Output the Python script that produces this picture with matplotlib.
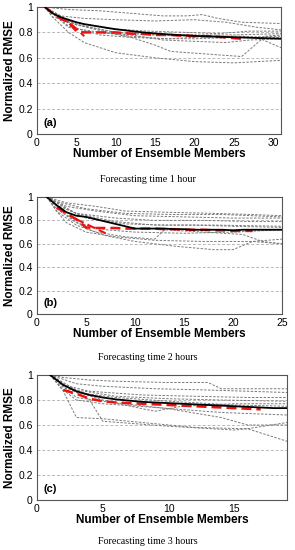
import matplotlib
matplotlib.use('Agg')
import matplotlib.pyplot as plt

# panel (a): forecasting time 1 hour
a_mean_x = list(range(1, 32))
a_mean_y = [1.0, 0.95, 0.92, 0.90, 0.88, 0.865, 0.855, 0.845, 0.835, 0.825, 0.818,
            0.81, 0.803, 0.797, 0.792, 0.787, 0.783, 0.779, 0.776, 0.773, 0.77, 0.768,
            0.766, 0.764, 0.762, 0.76, 0.758, 0.756, 0.754, 0.752, 0.75]
a_red_x = list(range(1, 27))
a_red_y = [1.0, 0.95, 0.91, 0.88, 0.81, 0.80, 0.80, 0.80, 0.80, 0.80, 0.795, 0.79, 0.79,
           0.785, 0.78, 0.78, 0.78, 0.775, 0.775, 0.77, 0.77, 0.77, 0.765, 0.76, 0.755, 0.75]
a_red2_x = [3, 4, 5, 6]
a_red2_y = [0.91, 0.88, 0.83, 0.77]
a_gray = [
    ([1, 4, 8, 12, 16, 19, 21, 23, 26, 31], [1.0, 0.98, 0.97, 0.95, 0.93, 0.93, 0.94, 0.91, 0.88, 0.87]),
    ([1, 3, 6, 10, 15, 20, 24, 28, 31], [1.0, 0.93, 0.91, 0.90, 0.89, 0.90, 0.88, 0.84, 0.82]),
    ([1, 2, 5, 9, 14, 19, 23, 27, 31], [1.0, 0.92, 0.88, 0.83, 0.81, 0.80, 0.79, 0.81, 0.81]),
    ([1, 3, 6, 10, 15, 20, 25, 31], [1.0, 0.90, 0.85, 0.80, 0.78, 0.78, 0.78, 0.79]),
    ([1, 4, 8, 12, 17, 22, 26, 28, 31], [1.0, 0.85, 0.78, 0.76, 0.75, 0.77, 0.77, 0.76, 0.68]),
    ([1, 3, 5, 9, 12, 15, 17, 26, 29, 31], [1.0, 0.90, 0.86, 0.80, 0.76, 0.70, 0.65, 0.61, 0.77, 0.78]),
    ([1, 2, 4, 6, 10, 15, 20, 25, 31], [1.0, 0.92, 0.80, 0.72, 0.64, 0.60, 0.57, 0.56, 0.58]),
    ([1, 4, 8, 12, 16, 20, 25, 31], [1.0, 0.84, 0.80, 0.77, 0.75, 0.75, 0.76, 0.77]),
    ([1, 5, 10, 15, 20, 25, 31], [1.0, 0.86, 0.80, 0.78, 0.77, 0.76, 0.76]),
    ([8, 12, 16, 20, 24, 27, 31], [0.80, 0.78, 0.74, 0.73, 0.72, 0.74, 0.75]),
]

# panel (b): forecasting time 2 hours
b_mean_x = list(range(1, 26))
b_mean_y = [1.0, 0.93, 0.87, 0.84, 0.83, 0.81, 0.79, 0.77, 0.75, 0.73, 0.73, 0.73, 0.73,
            0.725, 0.725, 0.72, 0.72, 0.72, 0.72, 0.715, 0.72, 0.72, 0.72, 0.72, 0.72]
b_red_x = list(range(2, 23))
b_red_y = [0.91, 0.86, 0.81, 0.74, 0.735, 0.735, 0.735, 0.73, 0.73, 0.73, 0.73, 0.725,
           0.725, 0.72, 0.72, 0.72, 0.715, 0.715, 0.71, 0.71, 0.71]
b_red2_x = [4, 5, 6, 7]
b_red2_y = [0.81, 0.77, 0.73, 0.69]
b_gray = [
    ([1, 3, 6, 9, 13, 18, 22, 25], [1.0, 0.95, 0.92, 0.88, 0.87, 0.86, 0.85, 0.84]),
    ([1, 2, 5, 9, 14, 19, 25], [1.0, 0.96, 0.90, 0.86, 0.85, 0.85, 0.83]),
    ([1, 3, 6, 10, 15, 20, 25], [1.0, 0.92, 0.88, 0.84, 0.83, 0.82, 0.82]),
    ([1, 2, 4, 8, 12, 17, 22, 25], [1.0, 0.93, 0.86, 0.82, 0.80, 0.80, 0.79, 0.79]),
    ([1, 3, 5, 9, 13, 18, 25], [1.0, 0.90, 0.82, 0.77, 0.76, 0.76, 0.75]),
    ([1, 2, 4, 7, 10, 15, 20, 25], [1.0, 0.90, 0.78, 0.72, 0.70, 0.69, 0.70, 0.72]),
    ([1, 2, 3, 5, 8, 12, 17, 22, 25], [1.0, 0.88, 0.78, 0.70, 0.66, 0.63, 0.62, 0.62, 0.64]),
    ([1, 3, 5, 7, 10, 14, 18, 20, 22, 25], [1.0, 0.85, 0.73, 0.67, 0.62, 0.58, 0.55, 0.55, 0.62, 0.60]),
    ([1, 2, 4, 6, 9, 12, 13, 17, 21, 23, 25], [1.0, 0.88, 0.76, 0.70, 0.66, 0.64, 0.72, 0.70, 0.68, 0.62, 0.60]),
    ([1, 4, 8, 12, 16, 20, 25], [1.0, 0.86, 0.79, 0.76, 0.76, 0.75, 0.74]),
]

# panel (c): forecasting time 3 hours
c_mean_x = list(range(1, 20))
c_mean_y = [1.0, 0.92, 0.87, 0.84, 0.82, 0.805, 0.795, 0.785, 0.78, 0.775, 0.77, 0.765,
            0.76, 0.755, 0.75, 0.745, 0.74, 0.735, 0.735]
c_red_x = list(range(2, 18))
c_red_y = [0.88, 0.85, 0.81, 0.79, 0.78, 0.775, 0.77, 0.765, 0.76, 0.755, 0.75, 0.745,
           0.74, 0.735, 0.73, 0.725]
c_gray = [
    ([1, 2, 4, 6, 10, 13, 14, 19], [1.0, 0.98, 0.96, 0.95, 0.94, 0.94, 0.89, 0.89]),
    ([1, 3, 5, 9, 13, 16, 19], [1.0, 0.93, 0.91, 0.89, 0.88, 0.87, 0.86]),
    ([1, 2, 4, 8, 12, 16, 19], [1.0, 0.92, 0.87, 0.84, 0.83, 0.82, 0.82]),
    ([1, 3, 6, 10, 14, 19], [1.0, 0.88, 0.83, 0.81, 0.80, 0.79]),
    ([1, 2, 5, 8, 9, 11, 15, 19], [1.0, 0.90, 0.80, 0.73, 0.71, 0.75, 0.77, 0.77]),
    ([1, 2, 3, 5, 9, 14, 19], [1.0, 0.88, 0.80, 0.77, 0.74, 0.70, 0.68]),
    ([1, 2, 3, 5, 8, 12, 16, 19], [1.0, 0.87, 0.66, 0.65, 0.62, 0.58, 0.57, 0.62]),
    ([1, 2, 4, 5, 10, 15, 16, 19], [1.0, 0.92, 0.80, 0.63, 0.59, 0.56, 0.57, 0.47]),
    ([1, 3, 5, 10, 14, 16, 19], [1.0, 0.82, 0.79, 0.73, 0.66, 0.60, 0.60]),
    ([1, 3, 6, 10, 15, 19], [1.0, 0.86, 0.82, 0.79, 0.76, 0.75]),
]

y_ticks = [0, 0.2, 0.4, 0.6, 0.8, 1]
y_ticklabels = ['0', '0.2', '0.4', '0.6', '0.8', '1']

panels = [
    # rect, xmax, xticks, label, caption, caption_y, mean, red, red2, grays
    ([37/295, 1 - 134/550, 244/295, 127/550], 31, [0, 5, 10, 15, 20, 25, 30], '(a)',
     'Forecasting time 1 hour', 1 - 179/550, (a_mean_x, a_mean_y), (a_red_x, a_red_y),
     (a_red2_x, a_red2_y), a_gray),
    ([37/295, 1 - 314/550, 245/295, 117/550], 25, [0, 5, 10, 15, 20, 25], '(b)',
     'Forecasting time 2 hours', 1 - 357/550, (b_mean_x, b_mean_y), (b_red_x, b_red_y),
     (b_red2_x, b_red2_y), b_gray),
    ([37/295, 1 - 500/550, 250/295, 125/550], 19, [0, 5, 10, 15], '(c)',
     'Forecasting time 3 hours', 1 - 542/550, (c_mean_x, c_mean_y), (c_red_x, c_red_y),
     None, c_gray),
]

fig = plt.figure(figsize=(2.95, 5.5), dpi=100)
bold = dict(family='Liberation Sans', weight='bold')

for rect, xmax, xticks, lab, caption, cap_y, mean, red, red2, grays in panels:
    ax = fig.add_axes(rect)
    for yv in y_ticks[1:]:
        ax.axhline(yv, color='#b8b8b8', lw=0.7, ls=(0, (3, 2)), zorder=0)
    for gx, gy in grays:
        ax.plot(gx, gy, color='#7a7a7a', lw=0.7, ls=(0, (2.5, 1.5)), zorder=1)
    ax.plot(red[0], red[1], color='#ee1111', lw=1.8, ls=(0, (4, 2)), zorder=3)
    if red2 is not None:
        ax.plot(red2[0], red2[1], color='#ee1111', lw=1.5, ls=(0, (4, 2)), zorder=3)
    ax.plot(mean[0], mean[1], color='black', lw=1.3, zorder=4)
    ax.set_xlim(0, xmax)
    ax.set_ylim(0, 1)
    ax.set_xticks(xticks)
    ax.set_yticks(y_ticks)
    ax.set_yticklabels(y_ticklabels)
    ax.tick_params(length=0, labelsize=7.5, pad=3)
    for t in ax.get_xticklabels() + ax.get_yticklabels():
        t.set_family('Liberation Sans')
    for s in ax.spines.values():
        s.set_color('#555555')
        s.set_linewidth(0.8)
    ax.set_xlabel('Number of Ensemble Members', fontsize=8.5, labelpad=0, **bold)
    ax.set_ylabel('Normalized RMSE', fontsize=8.5, labelpad=2, **bold)
    ax.text(0.025, 0.09, lab, transform=ax.transAxes, fontsize=8, va='center', **bold)
    fig.text(0.5, cap_y, caption, ha='center', va='center', fontsize=7.2,
             family='Liberation Serif')

fig.savefig('out.png', dpi=100)
